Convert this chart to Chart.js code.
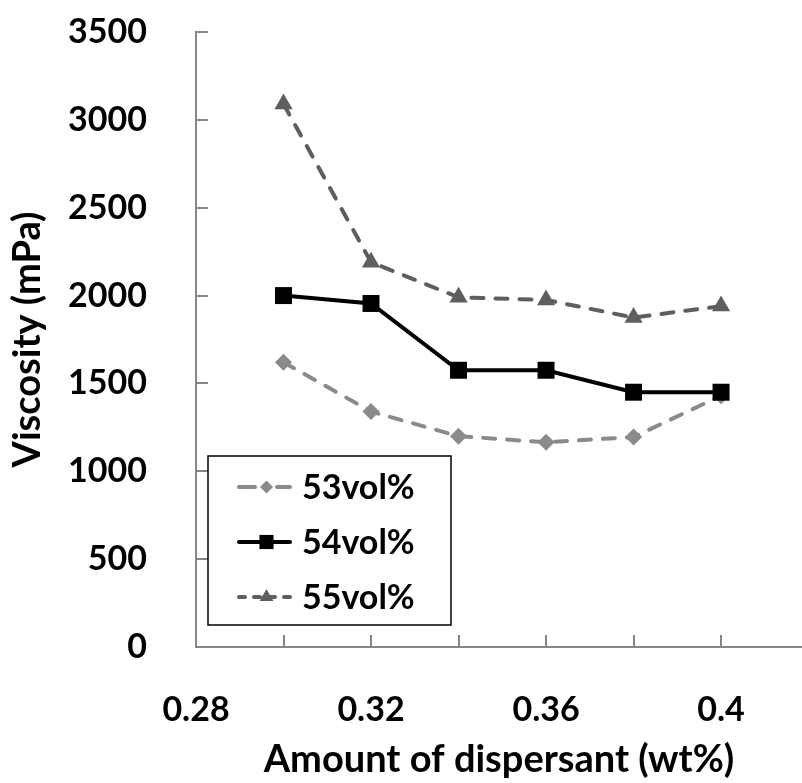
<!DOCTYPE html>
<html><head><meta charset="utf-8">
<script src="https://cdn.jsdelivr.net/npm/chart.js@4"></script>
<style>html,body{margin:0;padding:0;background:#fff;overflow:hidden}canvas{display:block}</style>
</head><body>
<canvas id="c" width="802" height="783"></canvas>
<script>
// ---- data ----
const dispersant = [0.30, 0.32, 0.34, 0.36, 0.38, 0.40];
const visc53 = [1620, 1340, 1200, 1165, 1195, 1430];
const visc54 = [2000, 1955, 1575, 1575, 1450, 1450];
const visc55 = [3090, 2190, 1990, 1975, 1875, 1940];
const seriesNames = ['53vol%', '54vol%', '55vol%'];
const xTickLabels = ['0.28', '0.32', '0.36', '0.4'];
const yTickLabels = ['0', '500', '1000', '1500', '2000', '2500', '3000', '3500'];
const xAxisTitle = 'Amount of dispersant (wt%)';
const yAxisTitle = 'Viscosity (mPa)';

// ---- styles ----
const axisGray = '#868686';
const font = {family: 'Lato', weight: 'bold', size: 34, lineHeight: 1.2};
const titleFont = {family: 'Lato', weight: 'bold', size: 38, lineHeight: 1.2};
const xMin = 0.28, xMax = 0.4185, yMax = 3500;

function pts(ys) { return dispersant.map((x, i) => ({x: x, y: ys[i]})); }

function drawMarker(ctx, style, x, y, r, color) {
  ctx.save();
  ctx.fillStyle = color;
  ctx.setLineDash([]);
  ctx.beginPath();
  if (style === 'rectRot') {
    ctx.moveTo(x, y - r); ctx.lineTo(x + r, y); ctx.lineTo(x, y + r); ctx.lineTo(x - r, y);
  } else if (style === 'rect') {
    const s = r * Math.SQRT1_2; ctx.rect(x - s, y - s, 2 * s, 2 * s);
  } else {
    const a = 2 * Math.PI / 3;
    ctx.moveTo(x, y - r);
    ctx.lineTo(x + r * Math.sin(a), y - r * Math.cos(a));
    ctx.lineTo(x + r * Math.sin(2 * a), y - r * Math.cos(2 * a));
  }
  ctx.closePath(); ctx.fill(); ctx.restore();
}

const legendMarkerR = [6.5, 10, 8];
const legendDash = [[16, 22], [], [6, 9]];
const boxLegend = {
  id: 'boxLegend',
  afterDraw(chart) {
    const ctx = chart.ctx, ca = chart.chartArea;
    const left = ca.left + 12, bottom = ca.bottom - 22;
    const w = 243, h = 169, top = bottom - h;
    ctx.save();
    ctx.fillStyle = '#fff';
    ctx.fillRect(left, top, w, h);
    ctx.lineWidth = 1.5; ctx.strokeStyle = '#000';
    ctx.strokeRect(left, top, w, h);
    const rows = [31, 86, 141];
    chart.data.datasets.forEach((ds, i) => {
      const y = top + rows[i];
      const x0 = left + 31, x1 = left + 82, xm = (x0 + x1) / 2 + 2;
      ctx.save();
      ctx.strokeStyle = ds.borderColor; ctx.lineWidth = ds.borderWidth;
      ctx.lineCap = 'round';
      ctx.setLineDash(legendDash[i]);
      ctx.beginPath(); ctx.moveTo(x0, y); ctx.lineTo(x1, y); ctx.stroke();
      ctx.restore();
      drawMarker(ctx, ds.pointStyle, xm, y, legendMarkerR[i], ds.pointBackgroundColor);
      ctx.fillStyle = '#000';
      ctx.font = 'bold 34px Lato';
      ctx.textBaseline = 'middle'; ctx.textAlign = 'left';
      ctx.fillText(ds.label, left + 94, y + 1);
    });
    ctx.restore();
  }
};

const isMark = v => dispersant.some(d => Math.abs(d - v) < 1e-6);

new Chart(document.getElementById('c'), {
  type: 'line',
  data: {
    datasets: [
      {label: seriesNames[0], data: pts(visc53), borderColor: '#8a8a8a', backgroundColor: '#8a8a8a',
       pointBackgroundColor: '#8a8a8a', borderWidth: 4, borderDash: [12, 12], borderCapStyle: 'round',
       pointStyle: 'rectRot', pointRadius: 8.5, pointBorderWidth: 0, order: 2},
      {label: seriesNames[1], data: pts(visc54), borderColor: '#000', backgroundColor: '#000',
       pointBackgroundColor: '#000', borderWidth: 4,
       pointStyle: 'rect', pointRadius: 12, pointBorderWidth: 0, order: 1},
      {label: seriesNames[2], data: pts(visc55), borderColor: '#5e5e5e', backgroundColor: '#5e5e5e',
       pointBackgroundColor: '#5e5e5e', borderWidth: 4, borderDash: [12, 12], borderCapStyle: 'round',
       pointStyle: 'triangle', pointRadius: 10.5, pointBorderWidth: 0, order: 0}
    ]
  },
  options: {
    responsive: false,
    animation: false,
    devicePixelRatio: 1,
    layout: {autoPadding: false, padding: {top: 32, right: 0, bottom: 0, left: 0}},
    elements: {line: {tension: 0, fill: false}},
    plugins: {legend: {display: false}, tooltip: {enabled: false}},
    scales: {
      x: {
        type: 'linear', min: xMin, max: xMax,
        afterBuildTicks(s) {
          const vals = [parseFloat(xTickLabels[0])].concat(dispersant);
          s.ticks = vals.map(v => ({value: v}));
        },
        afterFit(s) { s.height = 136; s.paddingLeft = 0; s.paddingRight = 0; },
        border: {color: axisGray, width: 2},
        grid: {drawOnChartArea: false, drawTicks: true, tickLength: -12, lineWidth: 2,
               color: c => (c.tick && isMark(c.tick.value)) ? axisGray : 'rgba(0,0,0,0)'},
        ticks: {autoSkip: false, maxRotation: 0, minRotation: 0, padding: 55, color: '#000', font: font,
                callback: v => { const l = xTickLabels.find(t => Math.abs(parseFloat(t) - v) < 1e-6); return l || ''; }},
        title: {display: true, text: xAxisTitle, color: '#000', font: titleFont, padding: {top: 0, bottom: 0}}
      },
      y: {
        min: 0, max: yMax,
        afterFit(s) { s.width = 196; s.paddingTop = 0; s.paddingBottom = 0; },
        border: {color: axisGray, width: 2},
        grid: {drawOnChartArea: false, drawTicks: true, tickLength: -12, lineWidth: 2, color: axisGray},
        ticks: {stepSize: 500, padding: 61, color: '#000', font: font,
                callback: (v, i) => yTickLabels[i] !== undefined ? yTickLabels[i] : String(v)},
        title: {display: true, text: yAxisTitle, color: '#000', font: titleFont, padding: {top: 5, bottom: 0}}
      }
    }
  },
  plugins: [boxLegend]
});
</script>
</body></html>
